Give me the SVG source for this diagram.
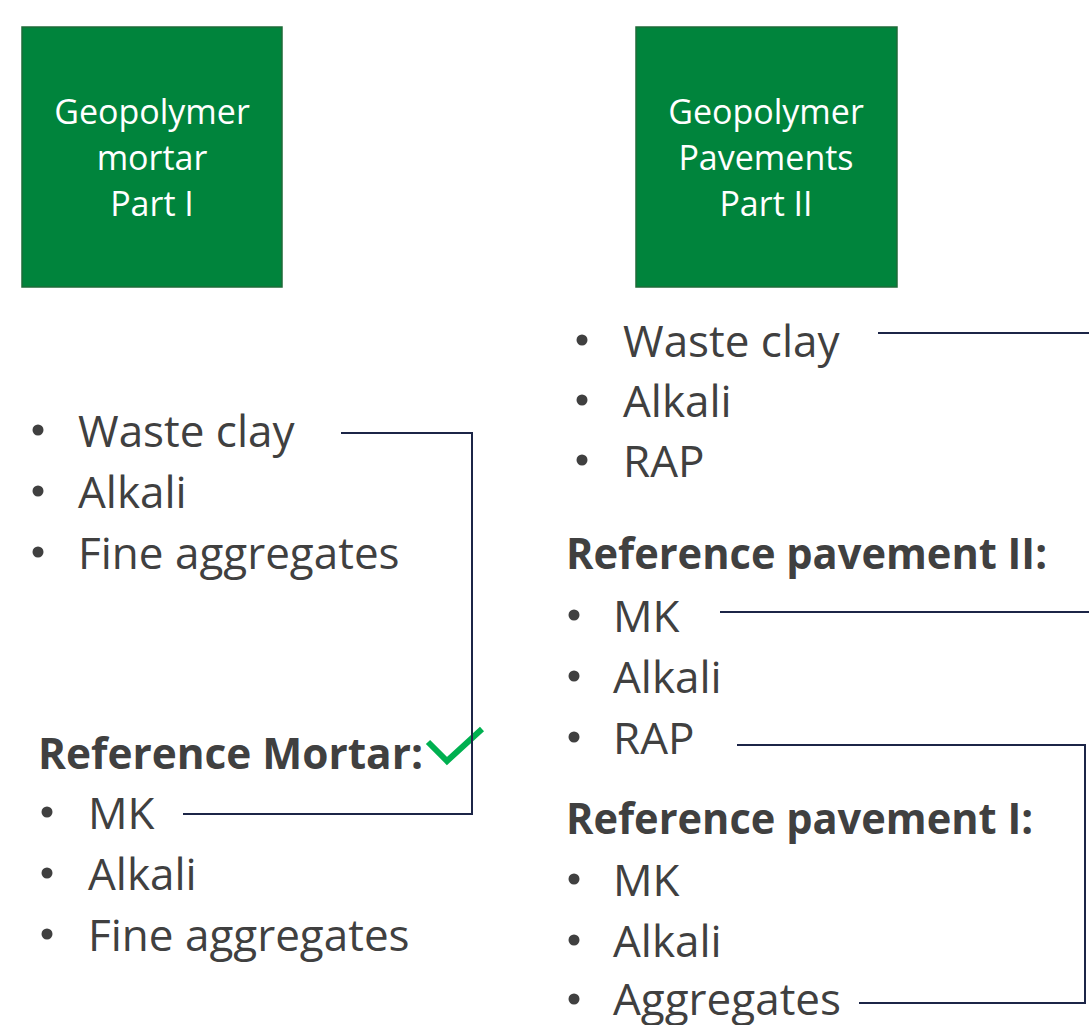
<svg xmlns="http://www.w3.org/2000/svg" width="1089" height="1025" viewBox="0 0 1089 1025">
<style>
.box{fill:#00843C;stroke:#1E6B38;stroke-width:1.5}
.bt{font-family:"Open Sans","Liberation Sans",sans-serif;font-size:34px;fill:#FFFFFF;text-anchor:middle}
.t{font-family:"Open Sans","Liberation Sans",sans-serif;font-size:44px;fill:#404040}
.h{font-family:"Open Sans","Liberation Sans",sans-serif;font-size:43px;font-weight:bold;fill:#404040}
.b{fill:#404040}
.c{fill:none;stroke:#1C2547;stroke-width:2}
.chk{fill:none;stroke:#00B050;stroke-width:6}
</style>
<rect width="1089" height="1025" fill="#FFFFFF"/>
<g id="node-mortar">
<rect class="box" x="22" y="27" width="260" height="260"/>
<text class="bt" x="152" y="124">Geopolymer</text>
<text class="bt" x="152" y="170">mortar</text>
<text class="bt" x="152" y="216">Part I</text>
</g>
<g id="node-pavements">
<rect class="box" x="636" y="27" width="261" height="260"/>
<text class="bt" x="766" y="124">Geopolymer</text>
<text class="bt" x="766" y="170">Pavements</text>
<text class="bt" x="766" y="216">Part II</text>
</g>
<g id="list-mortar">
<circle class="b" cx="38" cy="430" r="5.5"/><text class="t" x="78" y="447">Waste clay</text>
<circle class="b" cx="38" cy="491" r="5.5"/><text class="t" x="78" y="508">Alkali</text>
<circle class="b" cx="38" cy="552" r="5.5"/><text class="t" x="78" y="569">Fine aggregates</text>
</g>
<g id="list-reference-mortar">
<text class="h" x="38" y="769" textLength="385" lengthAdjust="spacingAndGlyphs">Reference Mortar:</text>
<circle class="b" cx="47" cy="812" r="5.5"/><text class="t" x="88" y="829">MK</text>
<circle class="b" cx="47" cy="873" r="5.5"/><text class="t" x="88" y="890">Alkali</text>
<circle class="b" cx="47" cy="934" r="5.5"/><text class="t" x="88" y="951">Fine aggregates</text>
</g>
<g id="check">
<polyline class="chk" points="428,742 447,761 482,729"/>
</g>
<g id="list-pavements">
<circle class="b" cx="582" cy="340" r="5.5"/><text class="t" x="623" y="357">Waste clay</text>
<circle class="b" cx="582" cy="400" r="5.5"/><text class="t" x="623" y="417">Alkali</text>
<circle class="b" cx="582" cy="460" r="5.5"/><text class="t" x="623" y="477">RAP</text>
</g>
<g id="list-reference-pavement-2">
<text class="h" x="566" y="569" textLength="481" lengthAdjust="spacingAndGlyphs">Reference pavement II:</text>
<circle class="b" cx="574" cy="615" r="5.5"/><text class="t" x="613" y="632">MK</text>
<circle class="b" cx="574" cy="676" r="5.5"/><text class="t" x="613" y="693">Alkali</text>
<circle class="b" cx="574" cy="737" r="5.5"/><text class="t" x="613" y="754">RAP</text>
</g>
<g id="list-reference-pavement-1">
<text class="h" x="566" y="834" textLength="467" lengthAdjust="spacingAndGlyphs">Reference pavement I:</text>
<circle class="b" cx="574" cy="879" r="5.5"/><text class="t" x="613" y="896">MK</text>
<circle class="b" cx="574" cy="940" r="5.5"/><text class="t" x="613" y="957">Alkali</text>
<circle class="b" cx="574" cy="999" r="5.5"/><text class="t" x="613" y="1015">Aggregates</text>
</g>
<g id="connectors">
<polyline class="c" points="341,433 472,433 472,814 183,814"/>
<line class="c" x1="878" y1="333" x2="1089" y2="333"/>
<line class="c" x1="720" y1="612" x2="1089" y2="612"/>
<polyline class="c" points="737,745 1085,745 1085,1003 859,1003"/>
</g>
</svg>
